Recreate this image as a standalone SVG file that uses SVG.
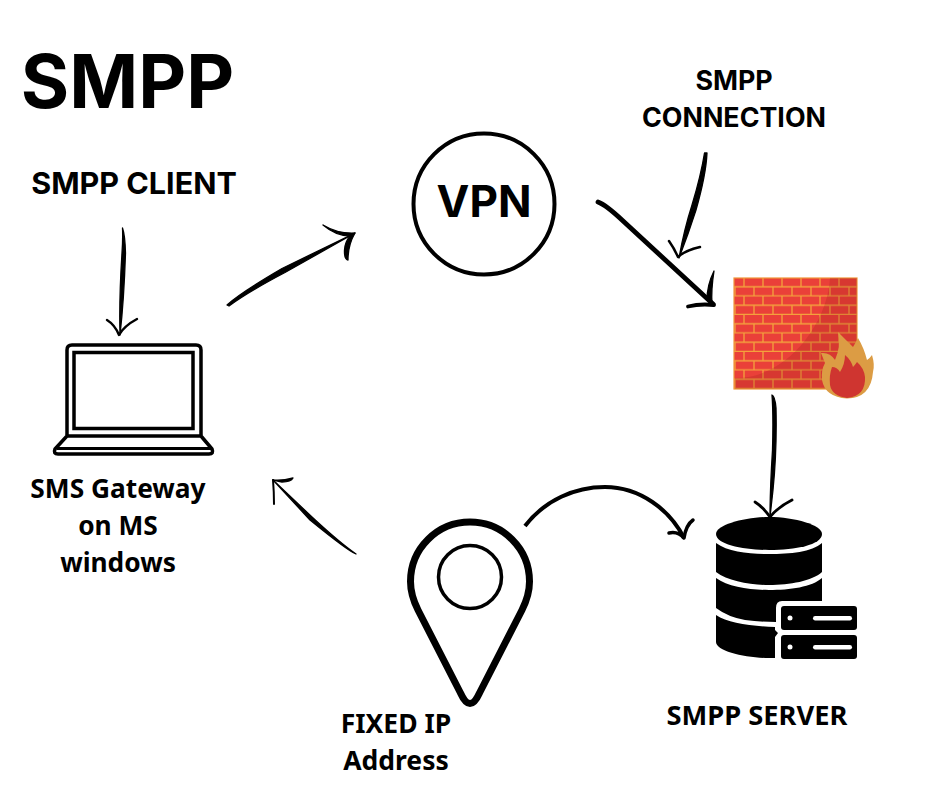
<svg xmlns="http://www.w3.org/2000/svg" width="940" height="788" viewBox="0 0 940 788">
<style>
text{font-family:"Noto Sans","Open Sans","Liberation Sans",sans-serif;font-weight:700;fill:#000;text-anchor:middle}
.lbl{font-size:26.500px}
.int{font-family:Inter,"Liberation Sans",sans-serif}
.arr{fill:none;stroke:#000;stroke-linecap:round;stroke-linejoin:round}
.fil{fill:#000;stroke:#000;stroke-width:1.300;stroke-linejoin:round}
</style>
<defs>
<pattern id="bricks" x="734" y="278" width="38" height="18.500" patternUnits="userSpaceOnUse">
<rect width="38" height="18.500" fill="#ea4039"/>
<path d="M0 8.800H38M0 18H38M10 0V9M29 0V9M1 9V18.500M20 9V18.500" stroke="#f4a23c" stroke-width="1.300" fill="none"/>
</pattern>
</defs>
<rect width="940" height="788" fill="#fff"/>
<g id="title"><text class="int" x="127.500" y="108" style="font-size:74px">SMPP</text></g>
<g id="smpp-client-label"><text class="int" x="134" y="194" style="font-size:30.500px">SMPP CLIENT</text></g>
<g id="smpp-connection-label"><text class="int" x="734" y="89.500" style="font-size:26.800px">SMPP</text><text class="int" x="734" y="126.500" style="font-size:26.800px">CONNECTION</text></g>
<g id="laptop">
<path d="M67 435V350Q67 345 72 345H196Q201 345 201 350V435" fill="none" stroke="#000" stroke-width="3.500"/>
<rect x="74" y="352.500" width="119" height="76" fill="none" stroke="#000" stroke-width="3.500"/>
<path d="M67 436L55 449Q53 454 58 454H209Q214 454 212 449L201 436Z" fill="none" stroke="#000" stroke-width="3.500" stroke-linejoin="round"/>
<path d="M57 448.500H211" stroke="#000" stroke-width="3"/>
<text style="font-size:26.300px" x="118" y="498">SMS Gateway</text><text style="font-size:26.300px" x="118" y="535">on MS</text><text style="font-size:26.300px" x="118" y="571.500">windows</text>
</g>
<g id="vpn"><circle cx="484" cy="204" r="70.500" fill="#fff" stroke="#000" stroke-width="4"/><text class="int" x="484" y="216.500" style="font-size:44px">VPN</text></g>
<g id="firewall">
<rect x="734" y="278" width="123" height="111" fill="url(#bricks)" stroke="#f0963a" stroke-width="1.200"/>
<path d="M830 278C828 320 790 378 735 378V389H857V278Z" fill="#8a1a14" fill-opacity=".2"/>
<path d="M838 332Q846 340 853 347Q856 342 858 338Q864 348 867 360Q870 358 872 355Q875 365 873 372Q871 398 847 398.500Q825 397 822 380Q821 370 825 363Q823 358 821 353Q830 352 835 360Q841 347 838 332Z" fill="#dc9c44"/>
<path d="M845 355Q851 360 853 367Q855 365 857 362Q864 368 865 377Q866 396 847 398Q832 396 830 385Q829 375 832 367Q837 367 840 372Q845 364 845 355Z" fill="#cf3530"/>
</g>
<g id="fixed-ip">
<path d="M460.500 693L418 610C413 600 410.500 590 410.500 581.500A59.500 59.500 0 0 1 529.500 581.500C529.500 591 527 600 522 610L479.500 693Q470 714 460.500 693Z" fill="#fff" stroke="#000" stroke-width="7" stroke-linejoin="round"/>
<circle cx="470" cy="577" r="31.500" fill="#fff" stroke="#000" stroke-width="3.500"/>
<text class="lbl" x="396" y="733">FIXED IP</text><text class="lbl" x="396" y="770">Address</text>
</g>
<g id="smpp-server">
<path d="M716 534C716 525 745 517 769 517C795 517 822 525 822 534C822 545 795 550 769 550C745 550 716 545 716 534Z" fill="#000"/>
<path d="M716 543C728 552 750 554 769 554C790 554 812 552 822 543V572C812 581 790 585 769 585C750 585 728 581 716 572Z" fill="#000"/>
<path d="M716 578C728 587 750 590 769 590C790 590 812 587 822 578V601H782Q776 601 776 608V622Q760 622 745 620Q728 617 716 608Z" fill="#000"/>
<path d="M716 615C728 623 750 626 775 627V630L778 633L775 637V658H769C745 658 716 651 716 642Z" fill="#000"/>
<rect x="781" y="606" width="76" height="24" rx="3" fill="#000"/>
<rect x="781" y="635" width="76" height="24" rx="3" fill="#000"/>
<g fill="#fff"><circle cx="790" cy="618" r="2.500"/><circle cx="790" cy="647" r="2.500"/><rect x="813" y="616" width="39" height="4.500" rx="2.200"/><rect x="813" y="645" width="39" height="4.500" rx="2.200"/></g>
<text style="font-size:27.300px" x="757" y="725">SMPP SERVER</text>
</g>
<g id="connectors">
<path class="fil" d="M122.500 228Q125 235 125.500 253Q124 300 120 335Q119 300 122 253Q123 238 122.500 228Z"/>
<path class="arr" stroke-width="2.400" d="M107 320Q115 325 119 335Q124 326 137 319"/>
<path class="fil" d="M227 305Q240 293 282 268.500L355 233L285 272.500Q248 292 229 306Z"/>
<path class="fil" d="M323 225Q338 234 355 233Q348 245 348 260Q344 259 344.500 250Q345 242 350 236Q336 236 323 225Z"/>
<path class="fil" d="M704.500 153L707 153Q706 175 696 210Q688 235 679 258Q684 230 692 205Q701 175 704.500 153Z"/>
<path class="arr" stroke-width="2.500" d="M669 241Q674 248 678 257Q686 250 700 247"/>
<path class="arr" stroke-width="4.800" d="M598 202Q606 205 622 220L713 304"/>
<path class="fil" d="M714 271Q711 290 712 304L707 300Q707 285 714 271Z"/>
<path class="arr" stroke-width="3.800" d="M688 306.500Q700 303.500 714 305"/>
<path class="fil" d="M772 395Q775 396 776 408Q777 450 773 490L770 517Q770 490 772.500 450Q773.500 415 772 395Z"/>
<path class="arr" stroke-width="2.800" d="M755 502Q763 507 770 517Q778 507 792 500"/>
<path class="arr" stroke-width="4" style="stroke-linecap:butt" d="M525 526C545 500 575 487 605 487C640 487 670 510 684 538"/>
<path class="arr" stroke-width="3.500" d="M693 520Q686 525 684 538Q678 531 669 533"/>
<path class="fil" d="M356 554Q348 551 310 520L273 480L312 517Q340 543 356 554Z"/>
<path class="arr" stroke-width="2" d="M274 504Q274 492 273 480"/>
<path class="fil" d="M273 480Q282 481 293 478Q291 482 282 482Z"/>
</g>
</svg>
